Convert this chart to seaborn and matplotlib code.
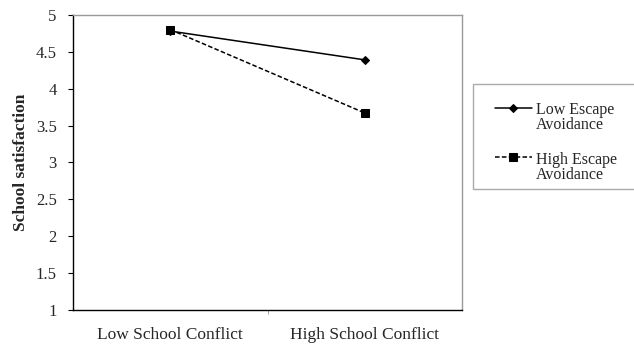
import pandas as pd
import seaborn as sns
import matplotlib.pyplot as plt
from matplotlib.patches import Rectangle

# data
conflict = ['Low School Conflict', 'High School Conflict']
low_escape = [4.78, 4.39]
high_escape = [4.80, 3.67]
groups = ['Low Escape\nAvoidance', 'High Escape\nAvoidance']

df = pd.DataFrame({
    'Conflict': conflict * 2,
    'Satisfaction': low_escape + high_escape,
    'Group': [groups[0]] * 2 + [groups[1]] * 2,
})

sns.set_style('white')
plt.rcParams['font.family'] = ['Liberation Serif', 'DejaVu Serif']

fig = plt.figure(figsize=(6.34, 3.45), dpi=100)
ax = fig.add_axes([0.115, 0.101, 0.614, 0.856])

sns.lineplot(
    data=df, x='Conflict', y='Satisfaction', hue='Group', style='Group',
    palette=['black', 'black'], markers=['D', 's'], dashes=[(None, None), (3, 1.5)],
    markersize=6, linewidth=1.1, markeredgecolor='black', ax=ax, sort=False,
)
for ln in ax.lines:
    if ln.get_marker() == 'D':
        ln.set_markersize(4.5)

ax.set_xlim(-0.5, 1.5)
ax.set_ylim(1, 5)
ax.set_yticks([1, 1.5, 2, 2.5, 3, 3.5, 4, 4.5, 5])
ax.set_yticklabels(['1', '1.5', '2', '2.5', '3', '3.5', '4', '4.5', '5'], fontsize=12)
ax.set_xticks([0, 1])
ax.set_xticklabels(conflict, fontsize=12.5)
ax.set_xticks([0.5], minor=True)
ax.tick_params(axis='x', which='major', length=0, pad=12)
ax.tick_params(axis='x', which='minor', length=3, direction='out', color='#999999', bottom=True)
ax.tick_params(axis='y', length=3.6, direction='out', left=True, color='black', pad=8)
ax.set_xlabel('')
ax.set_ylabel('School satisfaction', fontsize=12.5, fontweight='bold', labelpad=5)

for s in ['left', 'bottom']:
    ax.spines[s].set_color('black')
    ax.spines[s].set_linewidth(1.0)
for s in ['top', 'right']:
    ax.spines[s].set_color('#999999')
    ax.spines[s].set_linewidth(1.0)

# legend: frame drawn separately so it runs off the right edge like the original
leg = ax.legend(
    loc='upper left', bbox_to_anchor=(487 / 634, 1 - 94 / 345),
    bbox_transform=fig.transFigure, fontsize=11.5, frameon=False,
    handlelength=2.3, labelspacing=1.15, borderpad=0, handletextpad=0.25,
)
for txt in leg.get_texts():
    txt.set_linespacing(0.95)
for col in leg._legend_handle_box.get_children():
    for row in col.get_children():
        row.align = 'top'
fig.patches.append(Rectangle(
    (473 / 634, 1 - 189 / 345), 0.3, 105 / 345, transform=fig.transFigure,
    fill=False, edgecolor='#aaaaaa', linewidth=1.0,
))

fig.savefig('out.png', dpi=100)
